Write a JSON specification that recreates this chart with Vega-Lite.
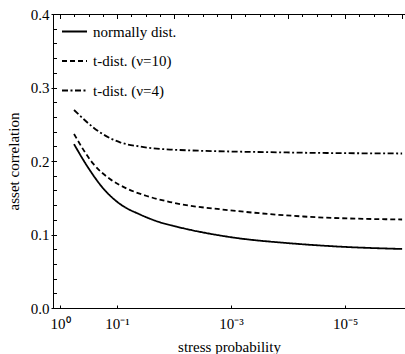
{
  "$schema": "https://vega.github.io/schema/vega-lite/v6.json",
  "width": 352,
  "height": 294,
  "autosize": "none",
  "padding": {"left": 53, "top": 14, "right": 0, "bottom": 46},
  "background": "white",
  "config": {
    "font": "Liberation Serif",
    "view": {"stroke": "black", "strokeWidth": 1},
    "axis": {"domainColor": "black", "tickColor": "black", "labelColor": "black", "titleColor": "black", "labelFont": "Liberation Serif", "titleFont": "Liberation Serif", "labelFontSize": 15, "titleFontSize": 15, "titleFontWeight": "normal", "grid": false, "tickWidth": 1},
    "legend": {"labelFont": "Liberation Serif", "labelFontSize": 15, "labelColor": "black"}
  },
  "data": {"values": [
    {"p": 0.568, "v": 0.223, "s": "normally dist."},
    {"p": 0.34, "v": 0.194, "s": "normally dist."},
    {"p": 0.174, "v": 0.1626, "s": "normally dist."},
    {"p": 0.0886, "v": 0.1415, "s": "normally dist."},
    {"p": 0.0395, "v": 0.1272, "s": "normally dist."},
    {"p": 0.0176, "v": 0.1166, "s": "normally dist."},
    {"p": 0.00785, "v": 0.1095, "s": "normally dist."},
    {"p": 0.00306, "v": 0.1027, "s": "normally dist."},
    {"p": 0.000794, "v": 0.0952, "s": "normally dist."},
    {"p": 0.000105, "v": 0.0884, "s": "normally dist."},
    {"p": 0.000014, "v": 0.0837, "s": "normally dist."},
    {"p": 0.000001, "v": 0.0803, "s": "normally dist."},
    {"p": 0.568, "v": 0.2367, "s": "t-dist. (ν=10)"},
    {"p": 0.26, "v": 0.196, "s": "t-dist. (ν=10)"},
    {"p": 0.133, "v": 0.1755, "s": "t-dist. (ν=10)"},
    {"p": 0.0676, "v": 0.1626, "s": "t-dist. (ν=10)"},
    {"p": 0.0301, "v": 0.1524, "s": "t-dist. (ν=10)"},
    {"p": 0.01175, "v": 0.1442, "s": "t-dist. (ν=10)"},
    {"p": 0.000794, "v": 0.132, "s": "t-dist. (ν=10)"},
    {"p": 0.000054, "v": 0.1245, "s": "t-dist. (ν=10)"},
    {"p": 0.000001, "v": 0.1204, "s": "t-dist. (ν=10)"},
    {"p": 0.568, "v": 0.2694, "s": "t-dist. (ν=4)"},
    {"p": 0.199, "v": 0.239, "s": "t-dist. (ν=4)"},
    {"p": 0.0886, "v": 0.2254, "s": "t-dist. (ν=4)"},
    {"p": 0.0395, "v": 0.2197, "s": "t-dist. (ν=4)"},
    {"p": 0.01175, "v": 0.2156, "s": "t-dist. (ν=4)"},
    {"p": 0.000105, "v": 0.2116, "s": "t-dist. (ν=4)"},
    {"p": 0.000001, "v": 0.2102, "s": "t-dist. (ν=4)"}
  ]},
  "resolve": {"axis": {"x": "independent", "y": "independent"}},
  "layer": [
    {
      "mark": {"type": "line", "color": "black", "strokeWidth": 1.8, "interpolate": "monotone"},
      "encoding": {
        "x": {"field": "p", "type": "quantitative",
          "scale": {"type": "log", "domain": [0.00000089, 1.327], "reverse": true, "nice": false},
          "axis": {"orient": "bottom", "title": "stress probability", "values": [1, 0.1, 0.001, 0.00001],
            "labelExpr": "datum.value >= 0.5 ? '10⁰' : datum.value >= 0.05 ? '10⁻¹' : datum.value >= 0.0005 ? '10⁻³' : '10⁻⁵'",
            "ticks": false, "labelPadding": 8, "titlePadding": 8, "labelFlush": false}},
        "y": {"field": "v", "type": "quantitative",
          "scale": {"domain": [0, 0.4], "nice": false, "zero": false},
          "axis": {"orient": "left", "title": "asset correlation", "values": [0, 0.1, 0.2, 0.3, 0.4], "format": ".1f", "tickSize": 2, "labelPadding": 2, "titlePadding": 9}},
        "strokeDash": {"field": "s", "type": "nominal",
          "scale": {"domain": ["normally dist.", "t-dist. (ν=10)", "t-dist. (ν=4)"], "range": [[1, 0], [5, 3], [6, 2.5, 2, 2.5]]},
          "legend": {"title": null, "orient": "none", "legendX": 8, "legendY": 4, "symbolType": "stroke", "symbolSize": 625, "symbolStrokeWidth": 1.8, "symbolStrokeColor": "black", "rowPadding": 7.5, "labelOffset": 5, "padding": 0, "labelFont": "Liberation Serif", "labelFontSize": 15}}
      }
    },
    {
      "mark": {"type": "point", "opacity": 0},
      "encoding": {
        "x": {"field": "p", "type": "quantitative",
          "axis": {"orient": "top", "offset": -294, "title": " ", "labels": true, "labelOpacity": 0, "labelFontSize": 1, "domain": false, "tickSize": 3, "tickColor": "black",
            "values": [1, 0.1, 0.001, 0.00001]}},
        "y": {"field": "v", "type": "quantitative",
          "axis": {"orient": "right", "offset": -352, "title": " ", "labels": true, "labelOpacity": 0, "labelFontSize": 1, "tickSize": 3.5, "domain": false, "tickColor": "black",
            "values": [0, 0.02, 0.04, 0.06, 0.08, 0.1, 0.12, 0.14, 0.16, 0.18, 0.2, 0.22, 0.24, 0.26, 0.28, 0.3, 0.32, 0.34, 0.36, 0.38, 0.4]}}
      }
    },
    {
      "mark": {"type": "point", "opacity": 0},
      "encoding": {
        "x": {"field": "p", "type": "quantitative",
          "axis": {"orient": "bottom", "offset": -294, "title": " ", "labels": true, "labelOpacity": 0, "labelFontSize": 1, "domain": false, "tickSize": 2.5, "tickColor": "black",
            "values": [0.5623, 0.3162, 0.1778, 0.05623, 0.03162, 0.01778, 0.005623, 0.003162, 0.001778, 0.0005623, 0.0003162, 0.0001778, 0.00005623, 0.00003162, 0.00001778, 0.000005623, 0.000003162, 0.000001778]}},
        "y": {"field": "v", "type": "quantitative", "axis": null}
      }
    },
    {
      "mark": {"type": "point", "opacity": 0},
      "encoding": {
        "x": {"field": "p", "type": "quantitative",
          "axis": {"orient": "bottom", "offset": -294, "title": " ", "labels": true, "labelOpacity": 0, "labelFontSize": 1, "domain": false, "tickSize": 4.5, "tickColor": "black",
            "values": [1, 0.1, 0.01, 0.001, 0.0001, 0.00001, 0.000001]}},
        "y": {"field": "v", "type": "quantitative", "axis": null}
      }
    }
  ]
}
